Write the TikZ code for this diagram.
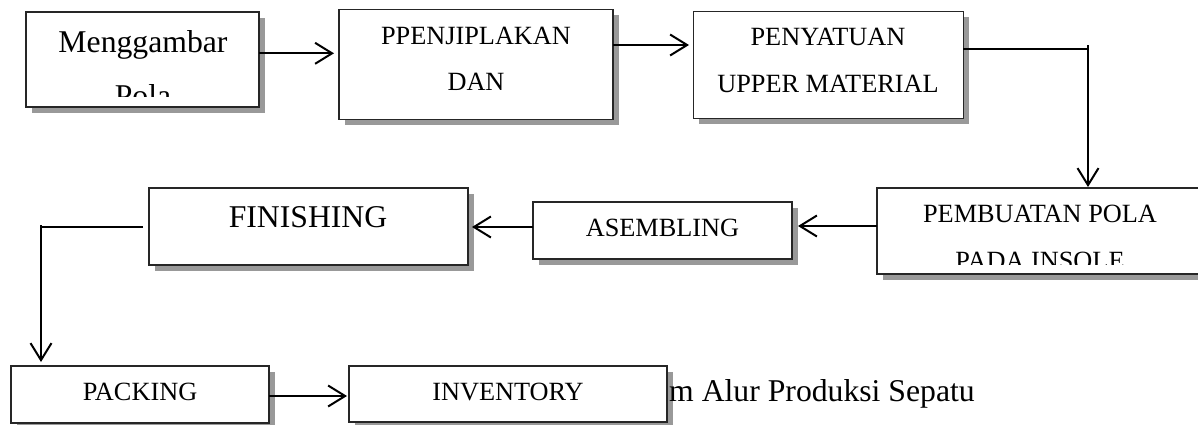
\documentclass[tikz,border=0pt]{standalone}
\usepackage{fontspec}
\setmainfont{Liberation Serif}
\usetikzlibrary{arrows.meta,shadows}
\begin{document}
\begin{tikzpicture}[x=1pt,y=-1pt,
  box/.style={draw=black!85,line width=1.2pt,fill=white,inner sep=0pt,outer sep=0pt,anchor=north west,
    drop shadow={shadow xshift=5.5pt,shadow yshift=-5.5pt,fill=black!40,opacity=1}},
  big/.style={font=\fontsize{31.7}{38}\selectfont,inner sep=0pt,anchor=base},
  small/.style={font=\fontsize{26.3}{32}\selectfont,inner sep=0pt,anchor=base},
  conn/.style={line width=2pt,black},
  arr/.style={conn,-{Straight Barb[length=17pt,width=21pt]}}]
\useasboundingbox (0,0) rectangle (1198,424);
\clip (0,0) rectangle (1198,424);

% boxes
\node[box,minimum width=233pt,minimum height=95pt] (b1) at (26,12) {};
\node[box,minimum width=274pt,minimum height=110pt] (b2) at (339,9.3) {};
\node[box,minimum width=270pt,minimum height=106.6pt] (b3) at (693.3,11.7) {};
\node[box,minimum width=326pt,minimum height=86pt] (b4) at (877,188) {};
\node[box,minimum width=259pt,minimum height=57pt] (b5) at (533,202) {};
\node[box,minimum width=319pt,minimum height=77pt] (b6) at (149,188) {};
\node[box,minimum width=258pt,minimum height=57pt] (b7) at (11,366) {};
\node[box,minimum width=318pt,minimum height=56pt] (b8) at (349,366) {};

% texts
\node[big] (t1a) at (143,52) {Menggambar};
\begin{scope}
  \clip (b1.north west) rectangle ([yshift=10.3pt]b1.south east);
  \node[big] (t1b) at (143,106) {Pola};
\end{scope}
\node[small] (t2a) at (476,44) {PPENJIPLAKAN};
\node[small] (t2b) at (476,90) {DAN};
\node[small] (t3a) at (828,45.7) {PENYATUAN};
\node[small] (t3b) at (828,92) {UPPER MATERIAL};
\node[small] (t4a) at (1040,222.7) {PEMBUATAN POLA};
\begin{scope}
  \clip (b4.north west) rectangle ([yshift=10pt]b4.south east);
  \node[small] (t4b) at (1040,269) {PADA INSOLE};
\end{scope}
\node[small] (t5) at (662.5,236.7) {ASEMBLING};
\node[big] (t6) at (308,227) {FINISHING};
\node[small] (t7) at (140,400) {PACKING};
\node[small] (t8) at (508,400) {INVENTORY};
\node[big,anchor=base west] (cap) at (669,401) {m Alur Produksi Sepatu};

% connectors
\coordinate (p1) at ([yshift=6.2pt]b1.east);
\draw[arr,shorten >=5pt] (p1) -- (p1 -| b2.west);
\coordinate (p2) at ([yshift=19.3pt]b2.east);
\draw[arr,shorten >=4.3pt] (p2) -- (p2 -| b3.west);
\coordinate (p3) at ([yshift=15.7pt]b3.east);
\coordinate (c3) at (1088,45);
\draw[conn] (p3) -- (p3 -| c3);
\draw[arr,shorten >=1pt] (c3) -- (c3 |- b4.north);
\coordinate (p4) at ([yshift=5pt]b4.west);
\draw[arr,shorten >=6pt] (p4) -- (p4 -| b5.east);
\coordinate (p5) at ([yshift=3.5pt]b5.west);
\draw[arr,shorten >=4pt] (p5) -- (p5 -| b6.east);
\coordinate (p6) at ([yshift=-0.5pt]b6.west);
\coordinate (c6) at (41,225);
\draw[conn,shorten <=6pt] (p6) -- (p6 -| c6);
\draw[arr,shorten >=4pt] (c6) -- (c6 |- b7.north);
\coordinate (p7) at ([yshift=-1.5pt]b7.east);
\draw[arr,shorten >=2pt] (p7) -- (p7 -| b8.west);
\end{tikzpicture}
\end{document}
